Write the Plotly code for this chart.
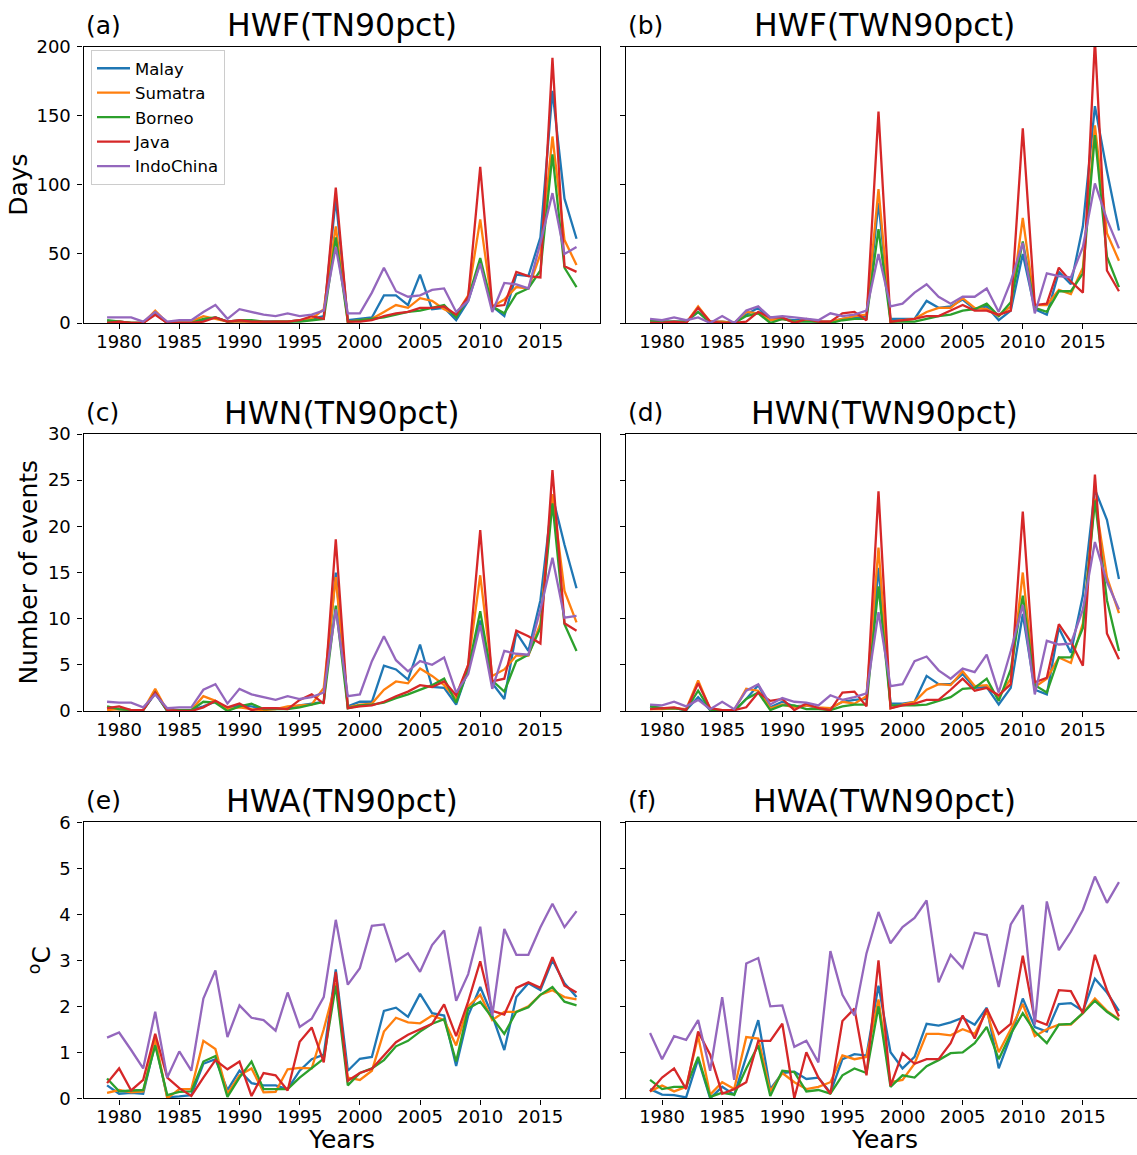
import plotly.graph_objects as go

W, H = 1137, 1155
years = list(range(1979, 2019))
regions = ["Malay", "Sumatra", "Borneo", "Java", "IndoChina"]
colors = ["#1f77b4", "#ff7f0e", "#2ca02c", "#d62728", "#9467bd"]
xtick_vals = [1980, 1985, 1990, 1995, 2000, 2005, 2010, 2015]

# ---- (a) HWF(TN90pct) ----
hwf_tn_malay = [1,1,0,0,7,0,1,1,2,4, 1,1,1,1,1,1,2,3,5,90, 2,3,4,20,20,13,35,10,11,2, 16,44,12,5,35,34,62,168,90,61]
hwf_tn_sumatra = [0,1,0,0,9,0,1,1,5,3, 1,1,1,0,1,1,2,3,10,70, 1,2,3,8,13,11,18,16,10,6, 20,75,12,17,26,25,50,135,60,42]
hwf_tn_borneo = [2,1,0,0,7,0,0,0,3,4, 1,2,2,1,1,1,1,2,3,62, 1,2,3,4,6,8,9,11,13,4, 18,47,12,7,21,25,38,122,40,26]
hwf_tn_java = [0,1,0,0,6,0,0,0,1,4, 1,2,1,1,1,1,2,5,3,98, 1,1,2,5,7,8,11,11,12,6, 19,113,12,13,37,34,33,192,41,37]
hwf_tn_indochina = [4,4,4,1,8,1,2,2,8,13, 3,10,8,6,5,7,5,6,9,55, 7,7,22,40,23,19,20,24,25,8, 16,43,8,29,28,25,58,94,50,55]

# ---- (b) HWF(TWN90pct) ----
hwf_twn_malay = [1,1,1,1,8,1,1,0,6,11, 2,3,2,2,1,1,3,4,5,87, 3,3,3,16,11,12,17,10,12,2, 9,50,10,6,37,28,70,157,110,67]
hwf_twn_sumatra = [0,1,0,0,12,1,1,0,8,7, 2,3,1,2,1,1,3,5,6,97, 1,2,3,8,11,11,18,11,10,5, 12,76,13,13,24,21,40,143,65,45]
hwf_twn_borneo = [2,1,1,1,8,0,0,0,5,7, 0,3,1,1,1,0,2,3,3,68, 1,1,1,3,5,6,9,10,14,5, 15,59,11,8,23,23,36,136,48,26]
hwf_twn_java = [0,0,1,0,11,1,0,0,1,8, 4,4,0,3,1,1,7,8,2,153, 1,2,3,5,5,9,13,9,9,6, 9,141,13,14,40,30,22,205,38,23]
hwf_twn_indochina = [3,2,4,2,4,0,5,0,9,12, 4,5,4,3,2,7,5,6,9,50, 12,14,22,28,19,14,19,19,25,8, 30,58,7,36,34,33,55,101,75,54]

# ---- (c) HWN(TN90pct) ----
hwn_tn_malay = [0.3,0.2,0.1,0.1,1.9,0,0.1,0.1,0.5,1.0, 0.3,0.6,0.5,0.2,0.3,0.3,0.6,0.8,1.0,15.0, 0.5,1.0,1.0,4.9,4.5,3.4,7.2,2.6,2.5,0.7, 4.5,9.8,3.0,1.3,8.5,6.5,12.0,23.3,18.0,13.3]
hwn_tn_sumatra = [0.1,0.2,0.1,0.1,2.4,0,0.1,0.1,1.6,1.1, 0.2,0.4,0.2,0.1,0.2,0.5,0.6,0.7,2.5,14.5, 0.4,0.7,0.8,2.3,3.2,3.0,4.6,3.8,2.8,1.3, 5.0,14.7,3.8,4.5,6.0,6.0,9.5,23.5,13.0,9.6]
hwn_tn_borneo = [0.5,0.2,0.1,0.1,2.0,0,0.1,0.1,1.0,0.9, 0.0,0.5,0.8,0.2,0.2,0.2,0.4,0.7,1.0,11.4, 0.3,0.6,0.7,0.9,1.4,1.8,2.3,2.8,3.5,0.9, 4.5,10.8,3.3,2.1,5.4,6.1,9.0,22.5,9.4,6.5]
hwn_tn_java = [0.3,0.5,0.1,0.1,2.0,0.1,0,0,0.4,1.1, 0.4,0.8,0.1,0.3,0.3,0.2,1.2,1.8,0.8,18.6, 0.3,0.5,0.6,1.0,1.6,2.1,2.8,2.6,3.2,1.7, 5.0,19.6,3.2,3.5,8.7,8.1,7.3,26.1,9.5,8.7]
hwn_tn_indochina = [1.0,0.9,0.9,0.4,1.8,0.3,0.4,0.4,2.3,2.9, 0.8,2.4,1.8,1.5,1.2,1.6,1.3,1.5,2.0,11.0, 1.6,1.8,5.4,8.1,5.5,4.3,5.4,5.0,5.8,2.0, 4.0,9.3,2.4,6.5,6.2,6.1,11.0,16.6,10.1,10.3]

# ---- (d) HWN(TWN90pct) ----
hwn_twn_malay = [0.5,0.3,0.3,0.1,1.5,0.1,0.1,0,1.3,2.8, 0.4,1.0,0.5,0.6,0.3,0.3,1.0,1.2,1.3,15.5, 0.8,0.8,1.0,3.8,2.9,2.9,4.0,2.5,2.6,0.7, 2.5,10.5,2.3,1.8,9.0,6.3,12.5,24.0,20.7,14.3]
hwn_twn_sumatra = [0.2,0.2,0.3,0.2,3.3,0.2,0.1,0.1,2.4,2.2, 0.3,0.7,0.4,0.6,0.4,0.3,1.0,0.8,1.6,17.7, 0.3,0.7,1.0,2.3,2.9,2.8,4.3,2.7,2.8,1.5, 3.5,15.0,2.6,3.5,5.8,5.2,9.5,23.0,14.5,10.6]
hwn_twn_borneo = [0.5,0.3,0.3,0.1,2.2,0.1,0.1,0,1.3,2.0, 0.1,0.6,0.6,0.2,0.2,0.1,0.5,0.7,0.7,13.5, 0.6,0.6,0.6,0.7,1.1,1.5,2.4,2.5,3.5,1.1, 4.5,12.5,2.8,2.0,5.8,5.8,9.0,22.8,12.0,6.5]
hwn_twn_java = [0.2,0.3,0.4,0.1,3.0,0.3,0.1,0.1,0.4,2.0, 1.1,1.3,0.1,0.8,0.3,0.1,2.0,2.1,0.5,23.8, 0.3,0.6,0.8,1.2,1.2,2.3,3.5,2.2,2.5,1.7, 2.9,21.6,3.1,3.6,9.4,7.5,4.9,25.6,8.4,5.6]
hwn_twn_indochina = [0.7,0.6,1.0,0.5,1.2,0.2,1.0,0.2,2.2,2.9, 0.7,1.4,1.0,0.9,0.6,1.7,1.2,1.5,1.9,10.7, 2.7,2.9,5.4,5.9,4.4,3.5,4.6,4.2,6.1,2.0, 6.5,11.5,1.8,7.6,7.2,7.3,11.0,18.3,14.0,11.0]

# ---- (e) HWA(TN90pct) ----
hwa_tn_malay = [0.28,0.10,0.12,0.10,1.20,0.02,0.04,0.07,0.75,0.85, 0.18,0.60,0.33,0.28,0.28,0.20,0.60,0.85,0.95,2.80, 0.60,0.86,0.90,1.90,1.97,1.77,2.27,1.85,1.80,0.70, 1.80,2.42,1.80,1.05,2.20,2.50,2.35,3.00,2.50,2.20]
hwa_tn_sumatra = [0.12,0.18,0.13,0.15,1.30,0.00,0.20,0.20,1.25,1.07, 0.10,0.50,0.65,0.13,0.14,0.63,0.66,0.65,1.50,2.50, 0.45,0.40,0.60,1.45,1.75,1.65,1.63,1.80,1.70,1.15, 2.00,2.25,1.70,1.88,1.88,2.00,2.25,2.35,2.20,2.15]
hwa_tn_borneo = [0.43,0.15,0.17,0.18,1.15,0.07,0.14,0.15,0.80,0.92, 0.03,0.45,0.80,0.20,0.20,0.20,0.45,0.65,0.86,2.45, 0.28,0.55,0.65,0.83,1.13,1.25,1.45,1.62,1.72,0.80, 1.95,2.10,1.75,1.40,1.88,1.98,2.25,2.42,2.10,2.02]
hwa_tn_java = [0.33,0.65,0.17,0.40,1.40,0.45,0.22,0.05,0.45,0.83, 0.63,0.80,0.05,0.55,0.50,0.17,1.23,1.54,0.78,2.75, 0.38,0.55,0.64,0.92,1.22,1.38,1.50,1.62,2.04,1.35, 2.10,2.98,1.90,1.82,2.40,2.52,2.40,3.07,2.45,2.30]
hwa_tn_indochina = [1.32,1.43,1.05,0.65,1.88,0.45,1.02,0.60,2.17,2.78, 1.33,2.02,1.75,1.70,1.47,2.30,1.55,1.73,2.20,3.88, 2.47,2.83,3.75,3.78,2.98,3.15,2.75,3.33,3.65,2.12, 2.70,3.73,1.80,3.68,3.12,3.12,3.72,4.23,3.72,4.07]

# ---- (f) HWA(TWN90pct) ----
hwa_twn_malay = [0.20,0.08,0.07,0.02,0.85,0.00,0.25,0.08,0.90,1.70, 0.20,0.55,0.58,0.42,0.45,0.12,0.85,0.96,0.93,2.45, 1.00,0.65,0.90,1.62,1.58,1.65,1.75,1.60,1.97,0.65, 1.35,2.17,1.55,1.45,2.05,2.07,1.90,2.60,2.30,1.90]
hwa_twn_sumatra = [0.15,0.28,0.15,0.25,1.35,0.08,0.35,0.20,1.33,1.30, 0.15,0.55,0.35,0.20,0.25,0.35,0.93,0.85,0.90,2.15, 0.35,0.40,0.75,1.40,1.40,1.37,1.50,1.40,1.90,1.00, 1.50,2.05,1.35,1.50,1.60,1.60,1.85,2.17,1.90,1.72]
hwa_twn_borneo = [0.40,0.20,0.25,0.25,0.90,0.03,0.12,0.08,0.65,1.15, 0.05,0.60,0.57,0.15,0.18,0.10,0.50,0.65,0.55,2.00, 0.25,0.50,0.45,0.70,0.83,0.98,1.00,1.20,1.55,0.85, 1.40,1.85,1.45,1.20,1.60,1.62,1.85,2.12,1.88,1.70]
hwa_twn_java = [0.15,0.45,0.65,0.20,1.45,0.95,0.10,0.20,0.35,1.25, 1.25,1.62,0.00,1.00,0.45,0.10,1.68,1.95,0.50,3.00, 0.27,0.98,0.75,0.85,0.85,1.20,1.80,1.30,1.95,1.40, 1.62,3.10,1.70,1.60,2.35,2.33,1.85,3.12,2.35,1.78]
hwa_twn_indochina = [1.42,0.85,1.35,1.27,1.70,0.60,2.20,0.40,2.93,3.05, 2.00,2.02,1.12,1.25,0.78,3.20,2.25,1.80,3.15,4.05, 3.37,3.72,3.92,4.30,2.52,3.12,2.83,3.60,3.55,2.42, 3.78,4.20,1.60,4.28,3.22,3.62,4.10,4.82,4.25,4.70]

panels = [
    ("(a)", "HWF(TN90pct)", [hwf_tn_malay, hwf_tn_sumatra, hwf_tn_borneo, hwf_tn_java, hwf_tn_indochina], [0, 200], [0, 50, 100, 150, 200]),
    ("(b)", "HWF(TWN90pct)", [hwf_twn_malay, hwf_twn_sumatra, hwf_twn_borneo, hwf_twn_java, hwf_twn_indochina], [0, 200], [0, 50, 100, 150, 200]),
    ("(c)", "HWN(TN90pct)", [hwn_tn_malay, hwn_tn_sumatra, hwn_tn_borneo, hwn_tn_java, hwn_tn_indochina], [0, 30], [0, 5, 10, 15, 20, 25, 30]),
    ("(d)", "HWN(TWN90pct)", [hwn_twn_malay, hwn_twn_sumatra, hwn_twn_borneo, hwn_twn_java, hwn_twn_indochina], [0, 30], [0, 5, 10, 15, 20, 25, 30]),
    ("(e)", "HWA(TN90pct)", [hwa_tn_malay, hwa_tn_sumatra, hwa_tn_borneo, hwa_tn_java, hwa_tn_indochina], [0, 6], [0, 1, 2, 3, 4, 5, 6]),
    ("(f)", "HWA(TWN90pct)", [hwa_twn_malay, hwa_twn_sumatra, hwa_twn_borneo, hwa_twn_java, hwa_twn_indochina], [0, 6], [0, 1, 2, 3, 4, 5, 6]),
]
ylabels = ["Days", "Number of events", "<sup>o</sup>C"]

# pixel layout of axes boxes
col_px = [(83.6, 600.0), (626.0, 1137.0)]
col_xrange = [[1977.05, 2019.95], [1977.0, 2019.5]]
row_px = [(46.7, 323.0), (434.0, 711.0), (822.3, 1098.3)]

FONT = "DejaVu Sans"
fig = go.Figure()
layout = dict(
    width=W, height=H, margin=dict(l=0, r=0, t=0, b=0, pad=0, autoexpand=False),
    paper_bgcolor="white", plot_bgcolor="white",
    font=dict(family=FONT, color="black", size=17),
    showlegend=True,
    legend=dict(x=91 / W, y=1 - 50 / H, xanchor="left", yanchor="top",
                bordercolor="#cccccc", borderwidth=1, bgcolor="rgba(255,255,255,0.9)",
                font=dict(family=FONT, size=16.5, color="black"), itemwidth=33),
)
annotations = []

for i, (tag, title, series, yr, yt) in enumerate(panels):
    r, c = divmod(i, 2)
    n = i + 1
    xname = "x" if n == 1 else f"x{n}"
    yname = "y" if n == 1 else f"y{n}"
    for k, vals in enumerate(series):
        fig.add_trace(go.Scatter(
            x=years, y=vals, mode="lines", name=regions[k],
            line=dict(color=colors[k], width=2.3),
            xaxis=xname, yaxis=yname, showlegend=(i == 0),
        ))
    x0, x1 = col_px[c]
    y0, y1 = row_px[r]
    layout[f"xaxis{'' if n == 1 else n}"] = dict(
        domain=[x0 / W, x1 / W], range=col_xrange[c], anchor=yname, automargin=False,
        tickvals=xtick_vals, ticks="outside", ticklen=5, tickwidth=1.4, tickcolor="black",
        ticklabelstandoff=-3,
        showline=True, linecolor="black", linewidth=1.4, mirror=True,
        showgrid=False, zeroline=False, tickfont=dict(size=18, family=FONT),
    )
    layout[f"yaxis{'' if n == 1 else n}"] = dict(
        domain=[1 - y1 / H, 1 - y0 / H], range=yr, anchor=xname, automargin=False,
        tickvals=yt, ticks="outside", ticklen=5, tickwidth=1.4, tickcolor="black",
        ticklabelstandoff=3,
        showline=True, linecolor="black", linewidth=1.4, mirror=(c == 0),
        showgrid=False, zeroline=False, showticklabels=(c == 0),
        tickfont=dict(size=18, family=FONT),
    )
    ty = 1 - (y0 - 21.5) / H
    annotations.append(dict(text=title, x=(x0 + (x0 + 516.4)) / 2 / W, y=ty, xref="paper", yref="paper",
                            xanchor="center", yanchor="middle", showarrow=False,
                            font=dict(size=31.5, family=FONT, color="black")))
    annotations.append(dict(text=tag, x=(x0 + 0) / W, y=ty, xref="paper", yref="paper",
                            xanchor="left", yanchor="middle", showarrow=False,
                            font=dict(size=25, family=FONT, color="black")))
    if c == 0:
        lx = [19, 28, 40][r]
        annotations.append(dict(text=ylabels[r], x=lx / W, y=1 - (y0 + y1) / 2 / H, xref="paper", yref="paper",
                                xanchor="center", yanchor="middle", showarrow=False, textangle=-90,
                                font=dict(size=25, family=FONT, color="black")))
    if r == 2:
        annotations.append(dict(text="Years", x=(x0 + (x0 + 516.4)) / 2 / W, y=1 - 1139 / H, xref="paper", yref="paper",
                                xanchor="center", yanchor="middle", showarrow=False,
                                font=dict(size=25, family=FONT, color="black")))

layout["annotations"] = annotations
fig.update_layout(**layout)
fig.write_html("out.html")
